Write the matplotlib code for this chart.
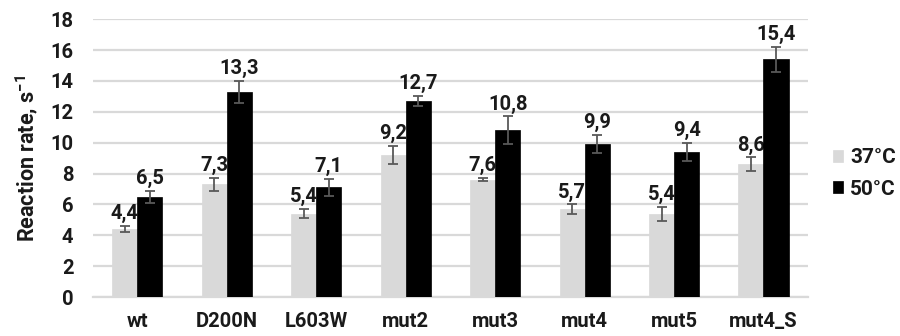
import matplotlib
matplotlib.use("Agg")
import matplotlib.pyplot as plt
import numpy as np

FONT = "Roboto"
plt.rcParams['font.family'] = [FONT, 'DejaVu Sans']
plt.rcParams['mathtext.fontset'] = 'custom'
plt.rcParams['mathtext.rm'] = FONT + ':bold'
plt.rcParams['mathtext.bf'] = FONT + ':bold'
plt.rcParams['mathtext.default'] = 'bf'

categories = ["wt", "D200N", "L603W", "mut2", "mut3", "mut4", "mut5", "mut4_S"]
rate_37 = [4.4, 7.3, 5.4, 9.2, 7.6, 5.7, 5.4, 8.6]
err_37 = [0.2, 0.4, 0.3, 0.6, 0.1, 0.3, 0.45, 0.45]
rate_50 = [6.5, 13.3, 7.1, 12.7, 10.8, 9.9, 9.4, 15.4]
err_50 = [0.4, 0.7, 0.55, 0.35, 0.9, 0.6, 0.6, 0.8]
series_names = ["37°C", "50°C"]
y_ticks = [0, 2, 4, 6, 8, 10, 12, 14, 16, 18]

fig = plt.figure(figsize=(9, 3.36), dpi=100)
ax = fig.add_axes([0.103, 0.116, 0.795, 0.827])

x = np.arange(len(categories))
w = 0.28
colors = ["#d9d9d9", "#000000"]
err_kw = dict(ecolor="#595959", elinewidth=1.3, capsize=3.5, capthick=1.3)
text_col = "#1a1a1a"

for vals, errs, off, col, name in [(rate_37, err_37, -w / 2, colors[0], series_names[0]),
                                    (rate_50, err_50, w / 2, colors[1], series_names[1])]:
    ax.bar(x + off, vals, width=w, color=col, yerr=errs, error_kw=err_kw,
           label=name, zorder=3, edgecolor=col, linewidth=0.5)
    for xi, v, e in zip(x + off, vals, errs):
        ax.annotate(f"{v:.1f}".replace(".", ","), (xi, v + e), xytext=(0, 2),
                    textcoords="offset points", ha="center", va="bottom",
                    fontsize=14.5, fontweight="bold", color=text_col)

ax.set_xlim(-0.5, len(categories) - 0.5)
ax.set_ylim(0, 18)
ax.set_yticks(y_ticks)
ax.set_xticks(x)
ax.set_xticklabels(categories)
ax.yaxis.grid(True, color="#d9d9d9", linewidth=1.6, zorder=0)
ax.set_axisbelow(True)
for s in ["top", "right", "left"]:
    ax.spines[s].set_visible(False)
ax.spines["bottom"].set_color("#d9d9d9")
ax.spines["bottom"].set_linewidth(1.6)
ax.tick_params(axis="both", length=0, labelsize=14.5, colors=text_col)
ax.tick_params(axis="x", pad=11)
ax.tick_params(axis="y", pad=14)
for lab in ax.get_xticklabels() + ax.get_yticklabels():
    lab.set_fontweight("bold")

ax.set_ylabel("Reaction rate, s$^{-1}$", fontsize=15.5, fontweight="bold",
              color=text_col, labelpad=7)

leg = fig.legend(*ax.get_legend_handles_labels(), loc="center left",
                 bbox_to_anchor=(0.925, 0.484), bbox_transform=fig.transFigure,
                 frameon=False, borderpad=0, borderaxespad=0,
                 handlelength=0.5, handleheight=0.5, handletextpad=0.35,
                 labelspacing=0.6, prop=dict(family=FONT, weight="bold", size=15))
for t in leg.get_texts():
    t.set_color(text_col)

fig.savefig("out.png", dpi=100)
